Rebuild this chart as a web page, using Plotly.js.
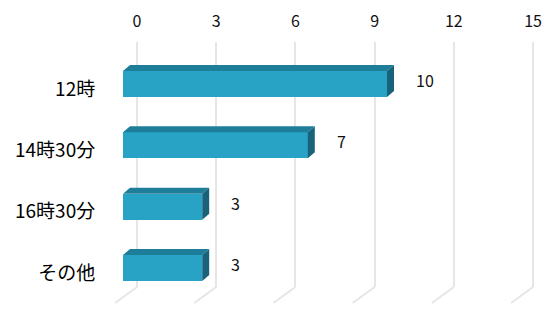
<!DOCTYPE html>
<html>
<head>
<meta charset="utf-8">
<script src="https://cdn.plot.ly/plotly-3.0.1.min.js"></script>
<style>html,body{margin:0;padding:0;background:#fff;}#chart{width:547px;height:309px;}</style>
</head>
<body>
<div id="chart"></div>
<script>
// ---- data ----
const categories = ["12時", "14時30分", "16時30分", "その他"];
const counts = [10, 7, 3, 3];
const tickValues = [0, 3, 6, 9, 12, 15];
const tickLabels = ["0", "3", "6", "9", "12", "15"];

// ---- style ----
const W = 547, H = 309;
const pxPerUnit = 26.4;          // horizontal scale
const frontZeroPx = 123;         // bar front plane zero
const backZeroPx = 137;          // gridline (back wall) zero
const rowPx = 61.33;             // category spacing
const firstRowPx = 84;           // centre of first bar (page px)
const plotTop = 42, plotBottom = 287;
const barHalf = 13;              // half height of front face (px)
const depthX = 7 / pxPerUnit;    // depth in data units
const depthY = 6;                // depth in px (up)

const frontColor = "#28A3C6";
const topColor = "#1E7E99";
const sideColor = "#19637A";
const font = "'Noto Sans CJK JP', 'Noto Sans', sans-serif";

const xRangeFront = [-frontZeroPx / pxPerUnit, (W - frontZeroPx) / pxPerUnit];
const xRangeBack = [-backZeroPx / pxPerUnit, (W - backZeroPx) / pxPerUnit];
const n = categories.length;
const yTopIdx = -(firstRowPx - plotTop) / rowPx;
const yBotIdx = (n - 1) + (plotBottom - (firstRowPx + (n - 1) * rowPx)) / rowPx;
const labelShift = 5 / rowPx;

const traces = [
  {
    type: "bar", orientation: "h",
    x: counts, y: categories,
    xaxis: "x", yaxis: "y",
    width: 2 * barHalf / rowPx,
    marker: {color: frontColor, line: {width: 0}},
    hoverinfo: "skip"
  },
  {
    type: "scatter", mode: "markers",
    x: counts, y: categories,
    xaxis: "x", yaxis: "y2",
    marker: {opacity: 0, size: 1},
    hoverinfo: "skip"
  }
];

const shapes = [];
// diagonal floor lines of the gridlines
tickValues.forEach(function (t) {
  shapes.push({
    type: "line", xref: "x2", yref: "paper",
    xsizemode: "pixel", ysizemode: "pixel",
    xanchor: t, yanchor: 0,
    x0: 0, x1: -22, y0: 0, y1: -16,
    line: {color: "#e6e6e6", width: 2},
    layer: "below"
  });
});
// 3D faces of bars
categories.forEach(function (c, i) {
  const v = counts[i];
  shapes.push({
    type: "path", xref: "x", yref: "y", ysizemode: "pixel", yanchor: c,
    path: "M0," + barHalf + " L" + v + "," + barHalf + " L" + (v + depthX) + "," + (barHalf + depthY) +
          " L" + depthX + "," + (barHalf + depthY) + " Z",
    fillcolor: topColor, line: {width: 0}, layer: "above"
  });
  shapes.push({
    type: "path", xref: "x", yref: "y", ysizemode: "pixel", yanchor: c,
    path: "M" + v + "," + barHalf + " L" + (v + depthX) + "," + (barHalf + depthY) +
          " L" + (v + depthX) + "," + (-barHalf + depthY) + " L" + v + "," + (-barHalf) + " Z",
    fillcolor: sideColor, line: {width: 0}, layer: "above"
  });
});

const annotations = categories.map(function (c, i) {
  return {
    x: counts[i], y: c, xref: "x", yref: "y",
    text: String(counts[i]), showarrow: false,
    xanchor: "left", xshift: 27, yshift: 4,
    font: {family: font, size: 16, color: "#111"}
  };
});

const layout = {
  width: W, height: H,
  margin: {l: 0, r: 0, t: plotTop, b: H - plotBottom, pad: 0},
  paper_bgcolor: "#fff", plot_bgcolor: "rgba(0,0,0,0)",
  showlegend: false,
  bargap: 0,
  xaxis: {
    domain: [0, 1], range: xRangeFront, visible: false, anchor: "y", fixedrange: true
  },
  xaxis2: {
    domain: [0, 1], range: xRangeBack, overlaying: "x", anchor: "y", side: "top",
    tickmode: "array", tickvals: tickValues, ticktext: tickLabels,
    showgrid: true, gridcolor: "#e6e6e6", gridwidth: 2,
    zeroline: false, showline: false,
    ticks: "outside", ticklen: 8, tickcolor: "rgba(0,0,0,0)",
    tickfont: {family: font, size: 16, color: "#111"}
  },
  yaxis: {
    type: "category", categoryorder: "array", categoryarray: categories,
    range: [yBotIdx, yTopIdx], domain: [0, 1], visible: false, anchor: "x"
  },
  yaxis2: {
    type: "category", categoryorder: "array", categoryarray: categories,
    range: [yBotIdx - labelShift, yTopIdx - labelShift], domain: [0, 1],
    overlaying: "y", anchor: "free", position: frontZeroPx / W, side: "left",
    showgrid: false, zeroline: false, showline: false,
    ticks: "outside", ticklen: 24, tickcolor: "rgba(0,0,0,0)",
    tickfont: {family: font, size: 19, color: "#000"}
  },
  shapes: shapes,
  annotations: annotations
};

Plotly.newPlot("chart", traces, layout, {staticPlot: true, displayModeBar: false});
</script>
</body>
</html>
